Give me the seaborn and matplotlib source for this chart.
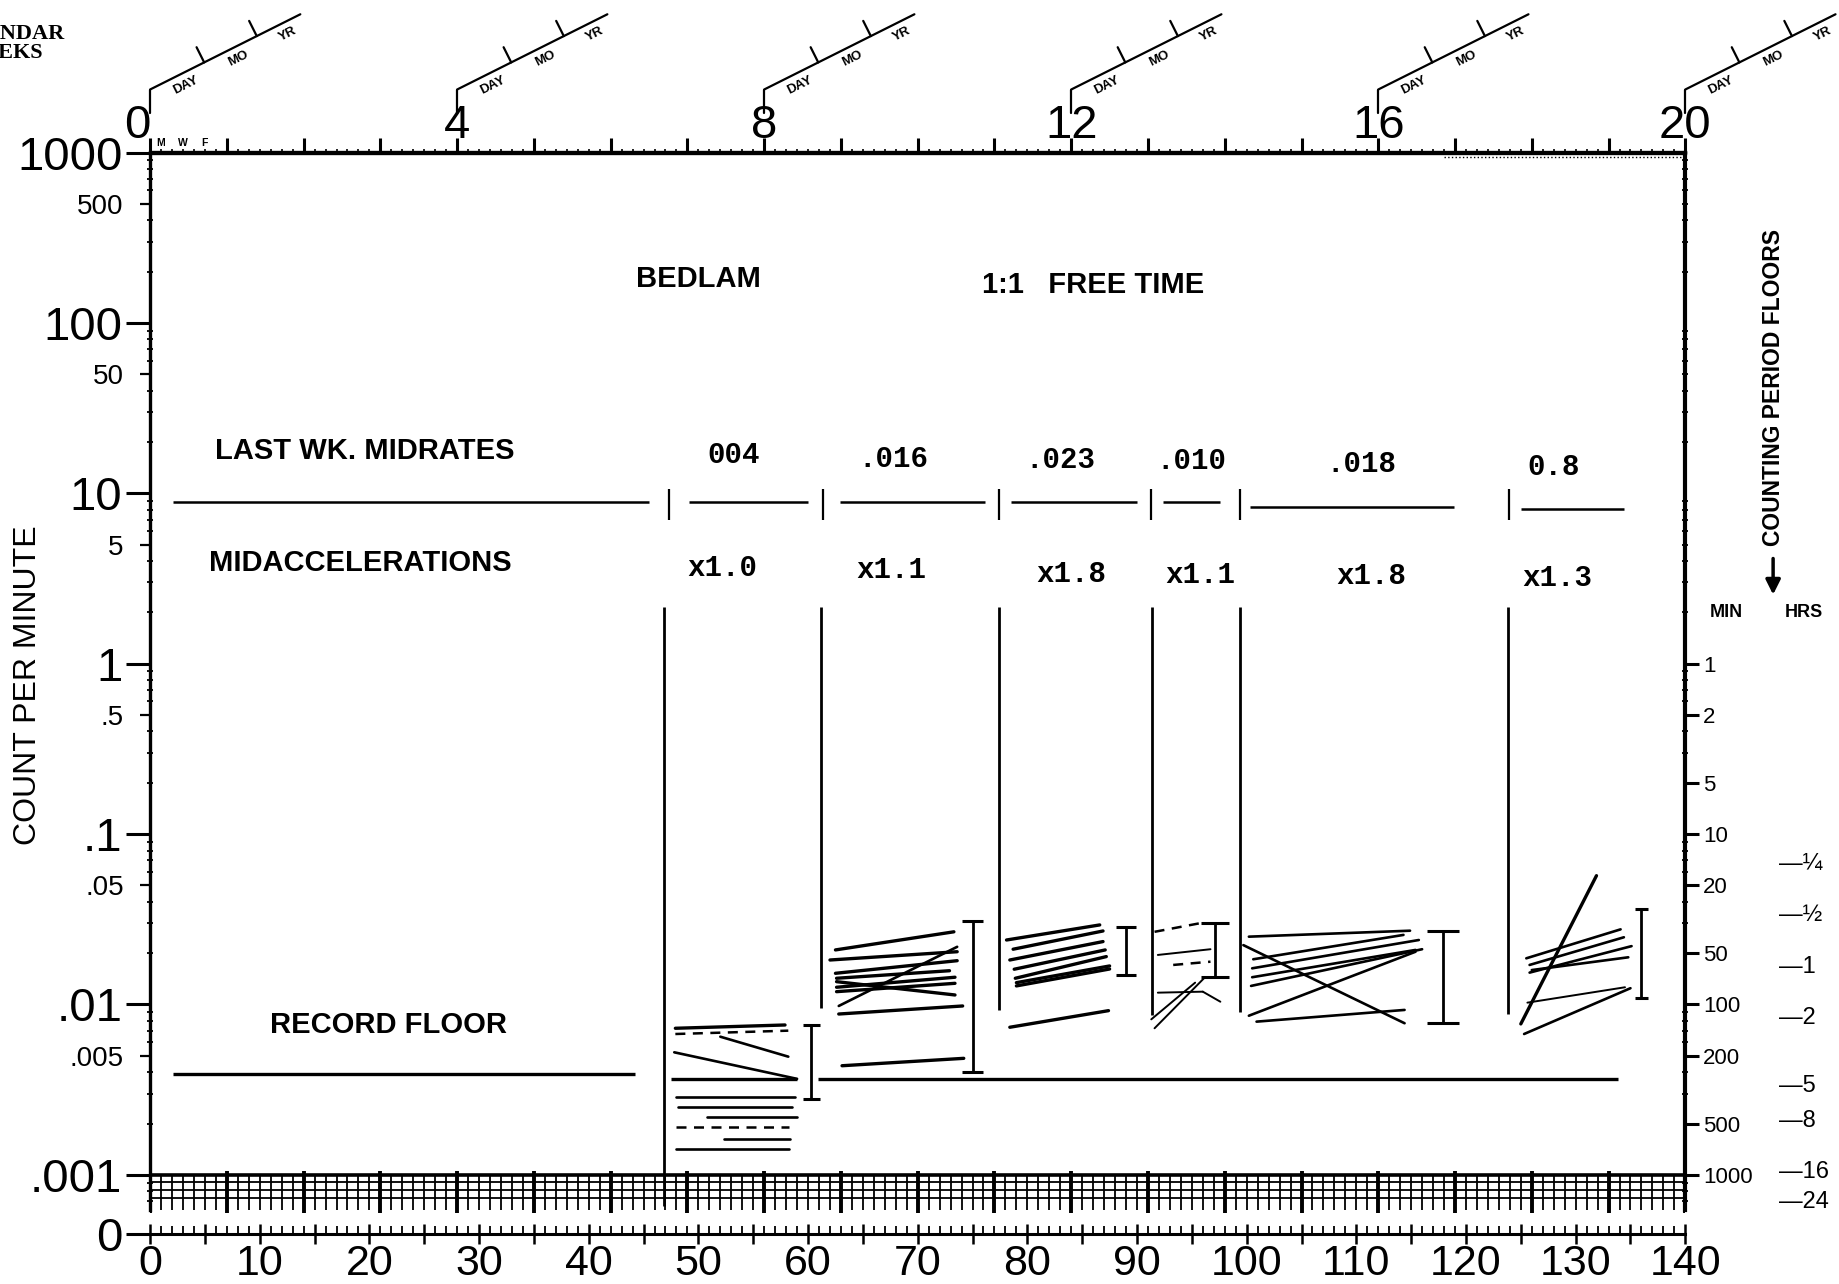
import numpy as np
import pandas as pd
import matplotlib
matplotlib.use("Agg")
import matplotlib.pyplot as plt
import matplotlib.transforms as mtransforms
from matplotlib.ticker import FixedLocator, NullFormatter
import seaborn as sns

# ---------------- data ----------------
days = np.arange(0, 141)
week_ticks = list(range(0, 21))
week_labels = [str(w) if w % 4 == 0 else "" for w in week_ticks]
day_label_ticks = list(range(0, 141, 5))
day_labels = [str(d) if d % 10 == 0 else "" for d in day_label_ticks]

count_major = [1e-3, 1e-2, 1e-1, 1, 10, 100, 1000]
count_major_labels = [".001", ".01", ".1", "1", "10", "100", "1000"]
count_minor = [5e-3, 5e-2, 0.5, 5, 50, 500]
count_minor_labels = [".005", ".05", ".5", "5", "50", "500"]
zero_row = 0.000451          # the "0" row below the chart floor
band_bottom = 0.000623       # bottom of the hatched band below .001

period_min = [1, 2, 5, 10, 20, 50, 100, 200, 500, 1000]
period_hrs = [0.25, 0.5, 1, 2, 5, 8, 16, 24]
period_hrs_labels = ["\u2014\u00bc", "\u2014\u00bd", "\u20141", "\u20142",
                     "\u20145", "\u20148", "\u201416", "\u201424"]

# phase change lines
phase_day = [46.9, 61.2, 77.4, 91.4, 99.4, 123.8]
phase_top = [2.14] * 6
phase_bottom = [0.00066, 0.0095, 0.00928, 0.00867, 0.00908, 0.00879]
mid_tick_day = [47.3, 61.4, 77.4, 91.3, 99.4, 123.9]

# last-week midrate lines
mid_x0 = [2.1, 49.1, 62.9, 78.5, 92.4, 100.3, 125.0]
mid_x1 = [45.5, 60.0, 76.1, 90.0, 97.6, 118.9, 134.4]
mid_val = [8.89, 8.89, 8.89, 8.89, 8.95, 8.35, 8.1]
midrate_labels = ["004", ".016", ".023", ".010", ".018", "0.8"]
midrate_day = [53.2, 67.8, 83.0, 95.0, 110.5, 128.0]
midrate_y = [16.8, 16.0, 15.7, 15.5, 14.8, 14.3]
accel_labels = ["x1.0", "x1.1", "x1.8", "x1.1", "x1.8", "x1.3"]
accel_day = [52.2, 67.6, 84.0, 95.8, 111.4, 128.3]
accel_y = [3.66, 3.55, 3.38, 3.33, 3.28, 3.18]

# record floor
floor_x0 = [2.1, 47.5, 60.9]
floor_x1 = [44.2, 59.0, 133.9]
floor_val = [0.00389, 0.00366, 0.00366]

# celeration lines per phase: start day, end day, start value, end value, style
p1_x0 = [47.9, 47.9, 52.0, 47.8, 48.0, 48.1, 50.8, 48.0, 52.3, 48.0]
p1_x1 = [57.9, 58.2, 58.2, 59.0, 58.8, 58.5, 59.0, 58.3, 58.4, 58.3]
p1_y0 = [0.00725, 0.00671, 0.00647, 0.00524, 0.00288, 0.00251, 0.00220, 0.00192, 0.00163, 0.00141]
p1_y1 = [0.00758, 0.00702, 0.00494, 0.00366, 0.00288, 0.00251, 0.00220, 0.00192, 0.00163, 0.00141]
p1_style = ["thick", "dash", "solid", "solid", "solid", "solid", "solid", "dash", "solid", "solid"]

p2_x0 = [62.5, 62.0, 62.5, 62.6, 62.6, 62.6, 62.6, 62.8, 62.8, 63.1]
p2_x1 = [73.3, 73.6, 73.6, 72.9, 73.4, 73.4, 73.4, 73.6, 74.1, 74.2]
p2_y0 = [0.0209, 0.01824, 0.01524, 0.01425, 0.01262, 0.01361, 0.01189, 0.0098, 0.00879, 0.00437]
p2_y1 = [0.0267, 0.0204, 0.01807, 0.01578, 0.01445, 0.01137, 0.01331, 0.0218, 0.0098, 0.00483]
p2_style = ["thick"] * 7 + ["solid", "thick", "thick"]

p3_x0 = [78.1, 78.7, 78.4, 78.8, 78.9, 79.0, 79.0, 78.4]
p3_x1 = [86.6, 86.9, 86.9, 87.1, 87.2, 87.5, 87.5, 87.4]
p3_y0 = [0.0239, 0.0211, 0.01824, 0.0161, 0.01425, 0.01343, 0.01285, 0.00735]
p3_y1 = [0.0293, 0.027, 0.0234, 0.0209, 0.0191, 0.01683, 0.01615, 0.0092]
p3_style = ["thick"] * 8

p4_x0 = [91.6, 91.9, 93.3, 91.9, 96.0, 91.3, 91.6]
p4_x1 = [96.0, 96.7, 96.7, 96.0, 97.6, 95.3, 96.2]
p4_y0 = [0.0267, 0.01953, 0.01706, 0.01173, 0.01189, 0.00818, 0.00725]
p4_y1 = [0.0302, 0.0211, 0.01783, 0.01189, 0.01038, 0.01343, 0.01445]
p4_style = ["dash", "thin", "dash", "thin", "thin", "thin", "thin"]

p5_x0 = [100.2, 100.6, 100.5, 100.5, 100.4, 99.7, 100.2, 100.9]
p5_x1 = [114.9, 114.3, 115.7, 115.4, 116.0, 114.4, 115.4, 114.4]
p5_y0 = [0.025, 0.01842, 0.0163, 0.01445, 0.01285, 0.0223, 0.00859, 0.00793]
p5_y1 = [0.0271, 0.0256, 0.0239, 0.0209, 0.0211, 0.00776, 0.0204, 0.00929]
p5_style = ["solid"] * 8

p6_x0 = [125.0, 125.5, 125.8, 125.8, 126.0, 125.6, 125.3]
p6_x1 = [131.9, 134.1, 134.4, 135.1, 134.8, 134.5, 135.0]
p6_y0 = [0.00769, 0.01866, 0.01706, 0.01538, 0.01592, 0.01025, 0.00671]
p6_y1 = [0.057, 0.0276, 0.0248, 0.022, 0.01892, 0.01262, 0.01246]
p6_style = ["thick", "solid", "solid", "solid", "solid", "thin", "solid"]

# bounce / range bars
bar_day = [60.3, 75.0, 89.0, 97.1, 117.9, 136.0]
bar_lo = [0.00279, 0.004, 0.0149, 0.0144, 0.00776, 0.01087]
bar_hi = [0.00758, 0.031, 0.0286, 0.0302, 0.0271, 0.0362]
bar_cap = [0.8, 1.0, 0.95, 1.3, 1.5, 0.6]

# ---------------- style ----------------
sns.set_style("ticks")
plt.rcParams.update({
    "axes.edgecolor": "black", "xtick.color": "black", "ytick.color": "black",
    "text.color": "black", "axes.labelcolor": "black",
})
plt.rcParams["font.family"] = ["Liberation Sans", "DejaVu Sans"]

W, H = 1839, 1284
fig = plt.figure(figsize=(W / 100, H / 100), dpi=100)
fig.patch.set_facecolor("white")
ax_l, ax_r, y_top, y_zero = 150.1, 1685.3, 152.5, 1233.8
ax = fig.add_axes([ax_l / W, 1 - y_zero / H, (ax_r - ax_l) / W, (y_zero - y_top) / H])
ax.set_yscale("log")
ax.set_xlim(0, 140)
ax.set_ylim(zero_row, 1000)

# celeration lines through seaborn
rows = []
phases = [(p1_x0, p1_x1, p1_y0, p1_y1, p1_style), (p2_x0, p2_x1, p2_y0, p2_y1, p2_style),
          (p3_x0, p3_x1, p3_y0, p3_y1, p3_style), (p4_x0, p4_x1, p4_y0, p4_y1, p4_style),
          (p5_x0, p5_x1, p5_y0, p5_y1, p5_style), (p6_x0, p6_x1, p6_y0, p6_y1, p6_style)]
for pid, (xs0, xs1, ys0, ys1, sts) in enumerate(phases):
    for i in range(len(xs0)):
        rows.append(dict(line=f"{pid}-{i}", day=xs0[i], value=ys0[i], kind=sts[i]))
        rows.append(dict(line=f"{pid}-{i}", day=xs1[i], value=ys1[i], kind=sts[i]))
cel = pd.DataFrame(rows)
kinds = {"thick": (2.4, "-"), "solid": (1.9, "-"), "thin": (1.4, "-"), "dash": (1.8, (0, (4, 3)))}
for k, (lw, ls) in kinds.items():
    sub = cel[cel["kind"] == k]
    if len(sub):
        sns.lineplot(data=sub, x="day", y="value", units="line", estimator=None,
                     color="black", linewidth=lw, linestyle=ls, sort=False,
                     legend=False, ax=ax)

# phase lines, midrates, floors, bars
ax.vlines(phase_day, phase_bottom, phase_top, color="black", lw=2.0)
ax.vlines(mid_tick_day, 7.0, 10.6, color="black", lw=1.6)
ax.hlines(mid_val, mid_x0, mid_x1, color="black", lw=1.8)
ax.hlines(floor_val, floor_x0, floor_x1, color="black", lw=2.4)
ax.vlines(bar_day, bar_lo, bar_hi, color="black", lw=2.0)
bd, bc = np.array(bar_day), np.array(bar_cap)
ax.hlines(bar_lo, bd - bc, bd + bc, color="black", lw=2.2)
ax.hlines(bar_hi, bd - bc, bd + bc, color="black", lw=2.2)

# hatched band below .001
ax.vlines(days[days % 7 != 0], 1.0e-3, band_bottom, color="black", lw=1.3)
ax.vlines(days[days % 7 == 0], 1.06e-3, 0.000595, color="black", lw=2.8)
ax.hlines([9.08e-4, 8.15e-4, 7.3e-4], 0, 140, color="black", lw=1.3)
ax.hlines(1e-3, 0, 140, color="black", lw=2.6)
ax.hlines(940, 118, 140, color="black", lw=1.0, linestyles=":")

# spines
ax.spines["left"].set_bounds(band_bottom, 1000)
ax.spines["left"].set_linewidth(2.4)
ax.spines["right"].set_visible(False)
ax.spines["top"].set_linewidth(2.4)
ax.spines["bottom"].set_linewidth(2.2)
ax.spines["bottom"].set_bounds(0, 140)

# left ticks
ax.set_yticks([zero_row] + count_major, ["0"] + count_major_labels)
ax.set_yticks(count_minor, count_minor_labels, minor=True)
ax.tick_params(axis="y", which="major", direction="out", length=17, width=2.2, labelsize=34, pad=3)
ax.tick_params(axis="y", which="minor", direction="out", length=7, width=1.6, labelsize=20, pad=12)

# bottom ticks
ax.set_xticks(day_label_ticks, day_labels)
ax.set_xticks(days, minor=True)
ax.tick_params(axis="x", which="major", direction="inout", length=14, width=1.8, labelsize=31, pad=0)
ax.tick_params(axis="x", which="minor", direction="in", length=6, width=1.3)
ax.set_xlabel("")
ax.set_ylabel("COUNT PER MINUTE", fontsize=23, va="center")
ax.yaxis.set_label_coords(-0.0795, 0.507)

# left small nibs
nib_locs = [s * 10.0 ** e for e in range(-4, 3) for s in range(2, 10)
            if band_bottom <= s * 10.0 ** e <= 1000 and s != 5]
axn = ax.twinx()
axn.set_yscale("log")
axn.set_ylim(zero_row, 1000)
axn.yaxis.set_ticks_position("left")
axn.set_yticks([])
axn.set_yticks(nib_locs, minor=True)
axn.yaxis.set_minor_formatter(NullFormatter())
axn.tick_params(which="minor", direction="inout", length=5, width=1.3)
for s in axn.spines.values():
    s.set_visible(False)

# top calendar weeks axis
secx = ax.secondary_xaxis("top", functions=(lambda d: d / 7.0, lambda w: w * 7.0))
secx.set_xticks(week_ticks, week_labels)
secx.xaxis.set_minor_locator(FixedLocator(days / 7.0))
secx.tick_params(which="major", direction="out", length=10, width=2.2, labelsize=34, pad=-7)
secx.tick_params(which="minor", direction="inout", length=5, width=1.2)
secx.spines["top"].set_linewidth(2.4)
first_tick = secx.xaxis.get_major_ticks()[0]
first_tick.label1.set_horizontalalignment("right")
first_tick.label2.set_horizontalalignment("right")

# right counting-period axis
axr = ax.twinx()
axr.set_yscale("log")
axr.set_ylim(zero_row, 1000)
axr.set_yticks([1.0 / m for m in period_min], [str(m) for m in period_min])
r_minor = [s * 10.0 ** e for e in range(-4, 3) for s in range(2, 10)
           if band_bottom <= s * 10.0 ** e <= 1000]
axr.set_yticks(r_minor, minor=True)
axr.yaxis.set_minor_formatter(NullFormatter())
axr.tick_params(which="major", direction="out", length=10, width=2.2, labelsize=16, pad=3)
axr.tick_params(which="minor", direction="inout", length=5, width=1.3)
for s in ["left", "top", "bottom"]:
    axr.spines[s].set_visible(False)
axr.spines["right"].set_bounds(band_bottom, 1000)
axr.spines["right"].set_linewidth(3)

trans = mtransforms.blended_transform_factory(ax.transAxes, ax.transData)
for h, lab in zip(period_hrs, period_hrs_labels):
    ax.text(1.061, 1.0 / (h * 60.0), lab, transform=trans, ha="left", va="center", fontsize=17)
ax.text(1.0265, 2.01, "MIN", transform=trans, ha="center", va="center", fontsize=13, fontweight="bold")
ax.text(1.0772, 2.01, "HRS", transform=trans, ha="center", va="center", fontsize=13, fontweight="bold")
ax.text(1.0572, 42.0, "COUNTING PERIOD FLOORS", transform=trans, rotation=90,
        ha="center", va="center", fontsize=16.5, fontweight="bold")
ax.annotate("", xy=(1.0572, 2.45), xytext=(1.0572, 4.3), xycoords=trans, textcoords=trans,
            arrowprops=dict(arrowstyle="-|>", lw=2.5, color="black", mutation_scale=22))

# chart texts
bold = dict(ha="center", va="center", fontsize=21, fontweight="bold")
ax.text(50.05, 180.7, "BEDLAM", **bold)
ax.text(86.0, 166.7, "1:1   FREE TIME", **bold)
ax.text(19.6, 17.6, "LAST WK. MIDRATES", **bold)
ax.text(19.2, 3.9, "MIDACCELERATIONS", **bold)
ax.text(21.7, 0.00758, "RECORD FLOOR", **bold)
mono = dict(ha="center", va="center", fontsize=21, fontweight="bold",
            family=["Liberation Mono", "DejaVu Sans Mono"])
for d, v, s in zip(midrate_day, midrate_y, midrate_labels):
    ax.text(d, v, s, **mono)
for d, v, s in zip(accel_day, accel_y, accel_labels):
    ax.text(d, v, s, **mono)
mwf = mtransforms.offset_copy(ax.transData, fig=fig, y=3, units="points")
for d, s in zip([1, 3, 5], ["M", "W", "F"]):
    ax.text(d, 1000, s, transform=mwf, ha="center", va="bottom", fontsize=7.5, fontweight="bold")

fig.text(2 / W, 1 - 24 / H, "CALENDAR\nWEEKS", ha="center", va="top", ma="center",
         fontsize=16, fontweight="bold", linespacing=0.95,
         family=["Liberation Serif", "DejaVu Serif"])

# DAY / MO / YR date brackets above every fourth week
ov = fig.add_axes([0, 0, 1, 1], zorder=5)
ov.set_xlim(0, W)
ov.set_ylim(0, H)
ov.axis("off")
ang = np.deg2rad(26.6)
ux, uy = np.cos(ang), np.sin(ang)
nx, ny = -uy, ux
L = 168.0
for w in week_ticks[::4]:
    xd, yd = ax.transData.transform((7 * w, 1000))
    y0b, y1b = yd + 40, yd + 63
    ov.plot([xd, xd], [y0b, y1b], color="black", lw=1.6)
    ov.plot([xd, xd + L * ux], [y1b, y1b + L * uy], color="black", lw=1.6)
    for t in (0.36, 0.71):
        px, py = xd + t * L * ux, y1b + t * L * uy
        ov.plot([px, px + 17 * nx], [py, py + 17 * ny], color="black", lw=1.6)
    for t, s in ((0.2, "DAY"), (0.55, "MO"), (0.88, "YR")):
        px, py = xd + t * L * ux - 12 * nx, y1b + t * L * uy - 12 * ny
        ov.text(px, py, s, rotation=26.6, ha="center", va="center", fontsize=9.5, fontweight="bold")

fig.savefig("out.png", dpi=100)
